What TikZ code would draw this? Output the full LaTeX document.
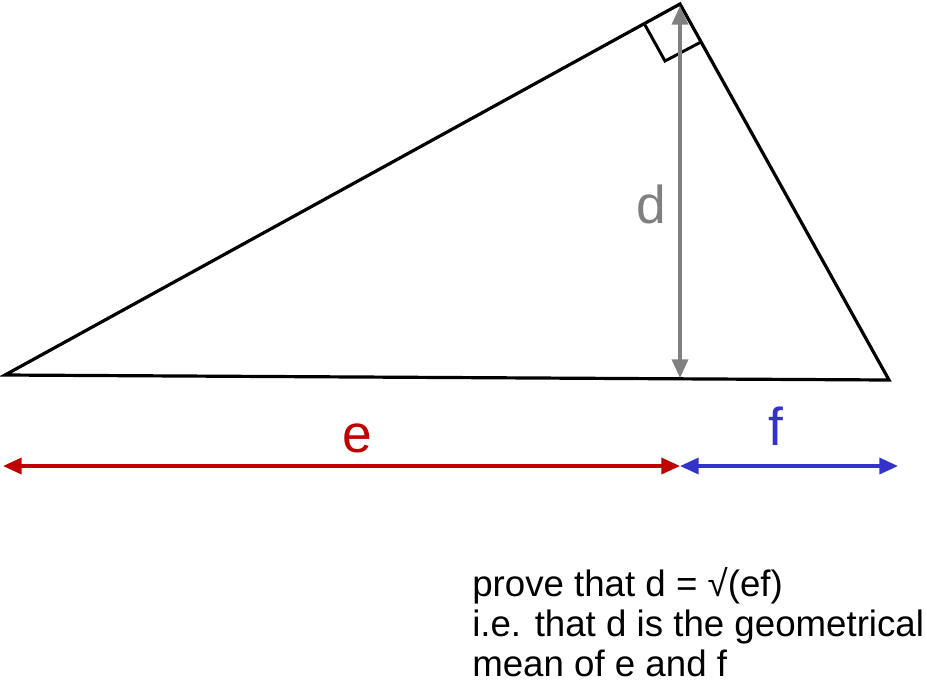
\documentclass[tikz,border=0pt]{standalone}
\usepackage{fontspec}
\setmainfont{Liberation Sans}
\usetikzlibrary{arrows.meta}
\definecolor{myred}{RGB}{192,0,0}
\definecolor{myblue}{RGB}{51,51,204}
\definecolor{mygrey}{RGB}{128,128,128}
\tikzset{
  tri/.style={line width=2.4pt,line join=miter},
  dim/.style={line width=2.6pt,{Stealth[length=14pt,width=12pt,inset=0pt]}-{Stealth[length=14pt,width=12pt,inset=0pt]}},
  biglbl/.style={font=\fontsize{40}{40}\selectfont},
  txt/.style={font=\fontsize{27.5}{30}\selectfont,align=left,anchor=north west,inner sep=0pt}
}
\begin{document}
\begin{tikzpicture}[x=0.75pt,y=-0.75pt]
\useasboundingbox (0,0) rectangle (927,687);
\coordinate (A) at (5,375);
\coordinate (B) at (680,4);
\coordinate (C) at (889,380);
\coordinate (H) at (680,378);
\draw[tri] (A) -- (B) -- (C) -- cycle;
\coordinate (m1) at (645,25);
\coordinate (m2) at (665,61);
\coordinate (m3) at (701,42);
\draw[line width=2.2pt] (m1) -- (m2) -- (m3);
\coordinate (d1) at (680,6);
\draw[dim,mygrey] (d1) -- (H);
\node[biglbl,text=mygrey] (dl) at (651,204) {d};
\coordinate (e1) at (3,466);
\coordinate (e2) at (680,466);
\coordinate (f2) at (898,466);
\draw[dim,myred] (e1) -- (e2);
\draw[dim,myblue] (e2) -- (f2);
\node[biglbl,text=myred] (el) at (357,438) {e};
\node[biglbl,text=myblue] (fl) at (776,426) {f};
\node[txt] (t) at (472,567) {prove that d = √(ef)\\i.e. that d is the geometrical\\mean of e and f};
\end{tikzpicture}
\end{document}
